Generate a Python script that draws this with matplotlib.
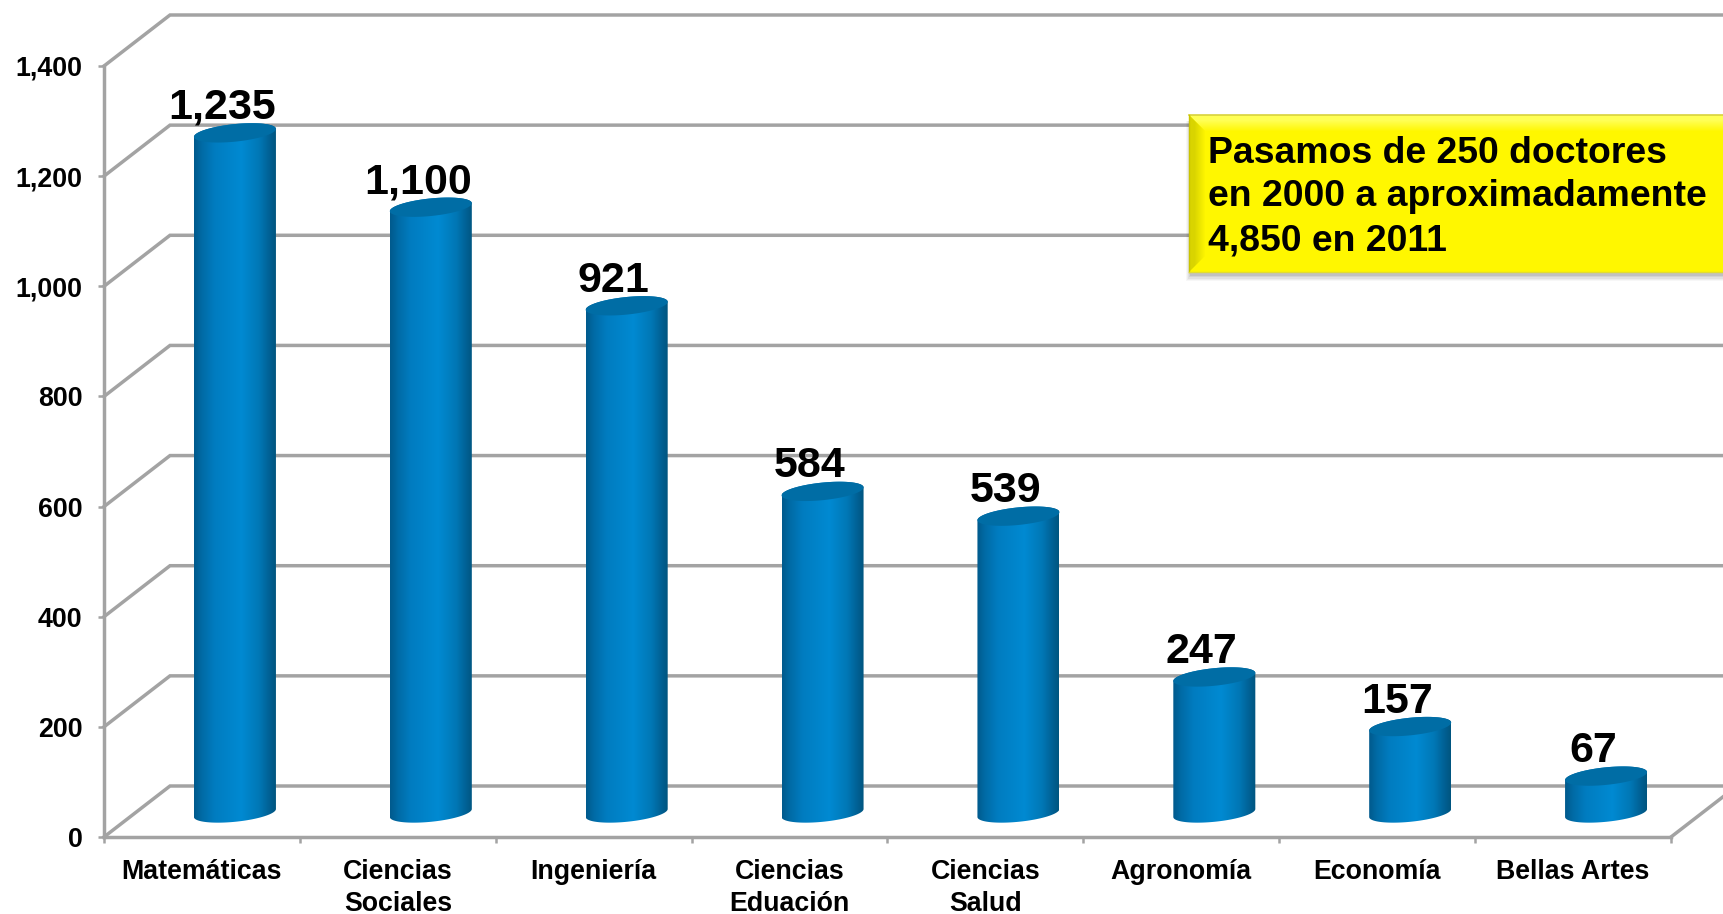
import numpy as np
import matplotlib
matplotlib.use("Agg")
import matplotlib.pyplot as plt
from matplotlib.colors import LinearSegmentedColormap
from matplotlib.patches import Polygon, Rectangle

categories = ["Matemáticas", "Ciencias\nSociales", "Ingeniería", "Ciencias\nEduación",
              "Ciencias\nSalud", "Agronomía", "Economía", "Bellas Artes"]
values = [1235, 1100, 921, 584, 539, 247, 157, 67]
value_labels = ["1,235", "1,100", "921", "584", "539", "247", "157", "67"]
y_ticks = [0, 200, 400, 600, 800, 1000, 1200, 1400]
y_tick_labels = ["0", "200", "400", "600", "800", "1,000", "1,200", "1,400"]
note_lines = ["Pasamos de 250 doctores", "en 2000 a aproximadamente", "4,850 en 2011"]

W, H = 1724, 914
GREY = "#a3a3a3"
plt.rcParams['font.family'] = ['Liberation Sans', 'DejaVu Sans']
plt.rcParams['font.weight'] = 'bold'

# plot area in pixels
x0, x1 = 104, 1671
y0, ytop = 837, 66
px_x = (x1 - x0) / 8.0          # pixels per category
px_y = (y0 - ytop) / 1400.0     # pixels per unit

# fake 3d depth of the walls
depth_x = 66 / px_x
depth_y = 51 / px_y

fig = plt.figure(figsize=(W / 100, H / 100), dpi=100, facecolor="white")
ax = fig.add_axes([x0 / W, 1 - y0 / H, (x1 - x0) / W, (y0 - ytop) / H])
ax.patch.set_visible(False)

# back wall gridlines and the diagonals going back to it
for t in y_ticks:
    ax.plot([0, depth_x, 8.6], [t, t + depth_y, t + depth_y], color=GREY, lw=2.5,
            clip_on=False, zorder=1, solid_joinstyle="miter")
ax.plot([8, 8 + depth_x], [0, depth_y], color=GREY, lw=2.5, clip_on=False, zorder=1)

bar_cmap = LinearSegmentedColormap.from_list("bar", [
    (0.0, "#005a8c"), (0.1, "#006ba6"), (0.25, "#007cc0"), (0.58, "#008ad2"),
    (0.8, "#0077b5"), (0.93, "#005f92"), (1.0, "#00557f")])

half_w = 41 / px_x
tilt = 4 / px_y
half_h = 8.8 / px_y
base = 24 / px_y
t = np.linspace(0, 2 * np.pi, 121)

for i, (v, lab) in enumerate(zip(values, value_labels)):
    cx = i + 0.5 + 33 / px_x
    ex = cx + half_w * np.cos(t)
    ey = tilt * np.cos(t) + half_h * np.sin(t)
    low = t[:61] + np.pi   # lower half, left to right
    lx = cx + half_w * np.cos(low)
    ly = tilt * np.cos(low) + half_h * np.sin(low)
    top = base + v

    # body with horizontal shading, clipped to the cylinder outline
    outline = np.vstack([
        np.column_stack([lx, ly + base]),
        [[cx + half_w, top + tilt]],
        np.column_stack([cx + half_w * np.cos(t[:61]),
                         top + tilt * np.cos(t[:61]) + half_h * np.sin(t[:61])]),
    ])
    im = ax.imshow(np.linspace(0, 1, 256).reshape(1, -1), cmap=bar_cmap, aspect="auto",
                   extent=[cx - half_w, cx + half_w, base - 30, top + 30], zorder=2,
                   clip_on=True)
    im.set_clip_path(Polygon(outline, closed=True, transform=ax.transData))

    # top cap
    ax.fill(ex, top + ey, color="#006da5", zorder=3, clip_on=False, lw=0)

    ax.annotate(lab, (cx, top), xytext=(-13, 14), textcoords="offset pixels",
                ha="center", va="baseline", fontsize=31, fontweight="bold",
                color="black", zorder=4, annotation_clip=False)

ax.set_xlim(0, 8)
ax.set_ylim(0, 1400)

for s in ["top", "right"]:
    ax.spines[s].set_visible(False)
for s in ["left", "bottom"]:
    ax.spines[s].set_color(GREY)
    ax.spines[s].set_linewidth(2.5)

ax.set_yticks(y_ticks)
ax.set_yticklabels(y_tick_labels, fontsize=19.3, fontweight="bold")
ax.tick_params(axis="y", length=4.5, width=1.8, color=GREY, pad=11)
ax.set_xticks(range(9))
ax.set_xticklabels([])
ax.tick_params(axis="x", which="major", length=4.5, width=1.8, color=GREY)
ax.set_xticks(np.arange(8) + 0.5, minor=True)
ax.set_xticklabels(categories, minor=True, fontsize=19.3, fontweight="bold", linespacing=1.3)
ax.tick_params(axis="x", which="minor", length=0, pad=16)

# yellow note, drawn in pixel coordinates over the chart
ov = fig.add_axes([0, 0, 1, 1], zorder=5)
ov.set_xlim(0, W)
ov.set_ylim(H, 0)
ov.axis("off")

bx, by, bb = 1189, 115, 272
bev = 22
for k, a in enumerate([0.03, 0.04, 0.05, 0.06, 0.08]):
    ov.add_patch(Rectangle((bx - 3 + k, by + 6), W, bb - by + 3 - k * 1.2, color="black", alpha=a, lw=0))
ov.add_patch(Rectangle((bx, by), W - bx, bb - by, color="#fff700", lw=0))

top_im = ov.imshow(np.array([[1.0], [0.0]]), aspect="auto", extent=[bx, W, by + bev, by], zorder=2,
                   cmap=LinearSegmentedColormap.from_list("t", ["#fff700", "#ffff55"]), interpolation="bilinear")
top_im.set_clip_path(Polygon([[bx, by], [W + 30, by], [W + 30 - bev, by + bev], [bx + bev, by + bev]],
                             transform=ov.transData))
left_im = ov.imshow(np.array([[1.0, 0.0]]), aspect="auto", extent=[bx, bx + bev, bb, by], zorder=2,
                    cmap=LinearSegmentedColormap.from_list("l", ["#fff700", "#d9d400"]), interpolation="bilinear")
left_im.set_clip_path(Polygon([[bx, by], [bx + bev, by + bev], [bx + bev, bb - bev], [bx, bb]],
                              transform=ov.transData))
ov.plot([bx, W], [by, by], color="#d8d23c", lw=1.2, zorder=3)
ov.plot([bx, bx], [by, bb], color="#c9c400", lw=1.0, zorder=3)
ov.plot([bx, W], [bb, bb], color="#e2dc30", lw=1.0, zorder=3)
ov.set_xlim(0, W)
ov.set_ylim(H, 0)

for k, line in enumerate(note_lines):
    ov.text(1208, 163 + k * 43.5, line, fontsize=26.9, fontweight="bold", color="black",
            ha="left", va="baseline", zorder=4)

fig.savefig("out.png", dpi=100, facecolor="white")
